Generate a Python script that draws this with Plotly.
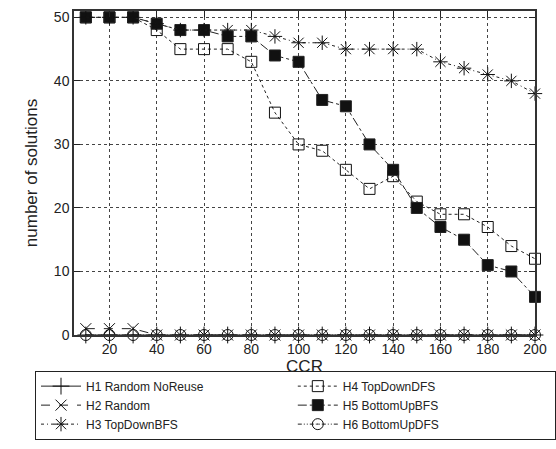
import plotly.graph_objects as go

ccr = [10, 20, 30, 40, 50, 60, 70, 80, 90, 100, 110, 120, 130, 140, 150, 160, 170, 180, 190, 200]
h1 = [0] * 20
h2 = [1, 1, 1, 0, 0, 0, 0, 0, 0, 0, 0, 0, 0, 0, 0, 0, 0, 0, 0, 0]
h3 = [50, 50, 50, 49, 48, 48, 48, 48, 47, 46, 46, 45, 45, 45, 45, 43, 42, 41, 40, 38]
h4 = [50, 50, 50, 48, 45, 45, 45, 43, 35, 30, 29, 26, 23, 25, 21, 19, 19, 17, 14, 12]
h5 = [50, 50, 50, 49, 48, 48, 47, 47, 44, 43, 37, 36, 30, 26, 20, 17, 15, 11, 10, 6]
h6 = [0] * 20

x_ticks = [20, 40, 60, 80, 100, 120, 140, 160, 180, 200]
y_ticks = [0, 10, 20, 30, 40, 50]

col = "#222222"
series = [
    ("H1 Random NoReuse", h1, "solid", "cross-thin-open", 12),
    ("H4 TopDownDFS", h4, "dot", "square-open", 11),
    ("H2 Random", h2, "dash", "x-thin-open", 11),
    ("H5 BottomUpBFS", h5, "dashdot", "square", 11),
    ("H3 TopDownBFS", h3, "3px,3px,1px,3px", "asterisk-open", 12),
    ("H6 BottomUpDFS", h6, "4px,2px,1px,2px,1px,2px", "circle-open-dot", 11),
]

fig = go.Figure()
for name, ys, dash, sym, sz in series:
    fig.add_trace(go.Scatter(
        x=ccr, y=ys, name=name, mode="lines+markers", cliponaxis=False,
        line=dict(color=col, width=1, dash=dash),
        marker=dict(symbol=sym, size=sz, color="#111111",
                    line=dict(color="#222222", width=1)),
    ))

font = dict(family="Liberation Sans, Arial, sans-serif", size=14, color="#222")
fig.update_layout(
    width=556, height=449,
    margin=dict(l=74, r=16, t=9, b=111),
    paper_bgcolor="white", plot_bgcolor="white",
    font=font,
    showlegend=True,
    legend=dict(
        orientation="h", x=-0.002, xanchor="left", y=-0.11, yanchor="top",
        entrywidth=0.48, entrywidthmode="fraction",
        bordercolor="#222", borderwidth=1,
        font=dict(family="Liberation Sans, Arial, sans-serif", size=12, color="#222"),
        tracegroupgap=0, itemwidth=40,
    ),
)
fig.update_xaxes(
    range=[5, 200], tickvals=x_ticks, ticks="inside", ticklen=6,
    tickcolor="#222", showline=True, linecolor="#333", linewidth=1.5,
    mirror="ticks", showgrid=True, gridcolor="#444", griddash="dot",
    gridwidth=1, zeroline=False,
    title=dict(text="CCR", standoff=0),
)
fig.update_yaxes(
    range=[0, 51], tickvals=y_ticks, ticks="inside", ticklen=6,
    tickcolor="#222", showline=True, linecolor="#333", linewidth=1.5,
    mirror="ticks", showgrid=True, gridcolor="#444", griddash="dot",
    gridwidth=1, zeroline=False,
    title=dict(text="number of solutions", standoff=12),
)
fig.write_html("out.html")
